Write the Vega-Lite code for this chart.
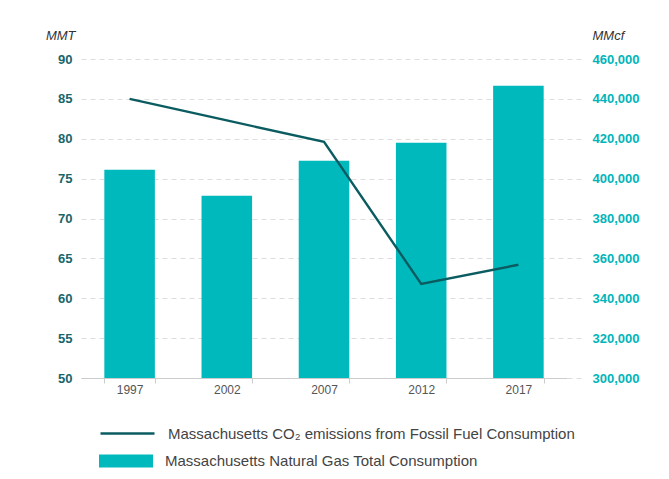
{
  "$schema": "https://vega.github.io/schema/vega-lite/v6.json",
  "autosize": "none",
  "width": 486,
  "height": 319,
  "padding": {"left": 81, "top": 59, "right": 102, "bottom": 101},
  "background": "white",
  "config": {
    "view": {"stroke": null},
    "font": "Liberation Sans"
  },
  "data": {
    "values": [
      {"year": "1997", "co2": 85.0, "gas": 404500},
      {"year": "2002", "co2": 82.3, "gas": 391400},
      {"year": "2007", "co2": 79.6, "gas": 409000},
      {"year": "2012", "co2": 61.8, "gas": 418000},
      {"year": "2017", "co2": 64.2, "gas": 446600}
    ]
  },
  "encoding": {
    "x": {
      "field": "year",
      "type": "ordinal",
      "scale": {"paddingInner": 0.48, "paddingOuter": 0.24},
      "axis": {
        "title": null,
        "labelAngle": 0,
        "labelFontSize": 12,
        "labelColor": "#555555",
        "labelPadding": 1,
        "tickBand": "extent",
        "tickSize": 5,
        "tickColor": "#cccccc",
        "domainColor": "#cccccc",
        "grid": false
      }
    }
  },
  "layer": [
    {
      "mark": {"type": "bar", "color": "#00b9bd", "clip": true},
      "encoding": {
        "y": {
          "field": "gas",
          "type": "quantitative",
          "scale": {"domain": [300000, 460000], "nice": false, "zero": false},
          "axis": {
            "orient": "right",
            "title": "MMcf",
            "titleAngle": 0,
            "titleAlign": "left",
            "titleBaseline": "middle",
            "titleX": 25,
            "titleY": -24,
            "titleFontSize": 13,
            "titleFontStyle": "italic",
            "titleFontWeight": "normal",
            "titleColor": "#333333",
            "values": [300000, 320000, 340000, 360000, 380000, 400000, 420000, 440000, 460000],
            "format": ",.0f",
            "labelFontSize": 13,
            "labelFontWeight": "bold",
            "labelColor": "#00b5ba",
            "labelPadding": 9,
            "tickSize": 16,
            "tickColor": "#dddddd",
            "tickDash": [5, 4],
            "domain": false,
            "grid": false
          }
        },
        "y2": {"datum": 300000},
        "fill": {
          "datum": "Massachusetts Natural Gas Total Consumption",
          "type": "nominal",
          "scale": {"range": ["#00b9bd"]},
          "legend": {
            "title": null,
            "orient": "none",
            "legendX": 18,
            "legendY": 375,
            "symbolType": "M-1,-0.245H1V0.245H-1Z",
            "symbolSize": 2916,
            "symbolStrokeWidth": 0,
            "symbolOpacity": 1,
            "labelFontSize": 15,
            "labelColor": "#444444",
            "labelOffset": 12,
            "labelLimit": 600
          }
        }
      }
    },
    {
      "mark": {"type": "line", "strokeWidth": 2.4},
      "encoding": {
        "y": {
          "field": "co2",
          "type": "quantitative",
          "scale": {"domain": [50, 90], "nice": false, "zero": false},
          "axis": {
            "orient": "left",
            "title": "MMT",
            "titleAngle": 0,
            "titleAlign": "right",
            "titleBaseline": "middle",
            "titleX": -6,
            "titleY": -24,
            "titleFontSize": 13,
            "titleFontStyle": "italic",
            "titleFontWeight": "normal",
            "titleColor": "#333333",
            "values": [50, 55, 60, 65, 70, 75, 80, 85, 90],
            "labelFontSize": 13,
            "labelFontWeight": "bold",
            "labelColor": "#17656b",
            "labelPadding": 9,
            "ticks": false,
            "tickSize": 0,
            "domain": false,
            "grid": true,
            "gridColor": "#dddddd",
            "gridDash": [5, 4],
            "gridWidth": 1
          }
        },
        "stroke": {
          "datum": "Massachusetts CO₂ emissions from Fossil Fuel Consumption",
          "type": "nominal",
          "scale": {"range": ["#0b5c61"]},
          "legend": {
            "title": null,
            "orient": "none",
            "legendX": 18,
            "legendY": 346,
            "symbolType": "stroke",
            "symbolSize": 2916,
            "symbolStrokeWidth": 2.4,
            "labelFontSize": 15,
            "labelColor": "#444444",
            "labelOffset": 12,
            "labelLimit": 600
          }
        }
      }
    }
  ],
  "resolve": {"scale": {"y": "independent"}}
}
